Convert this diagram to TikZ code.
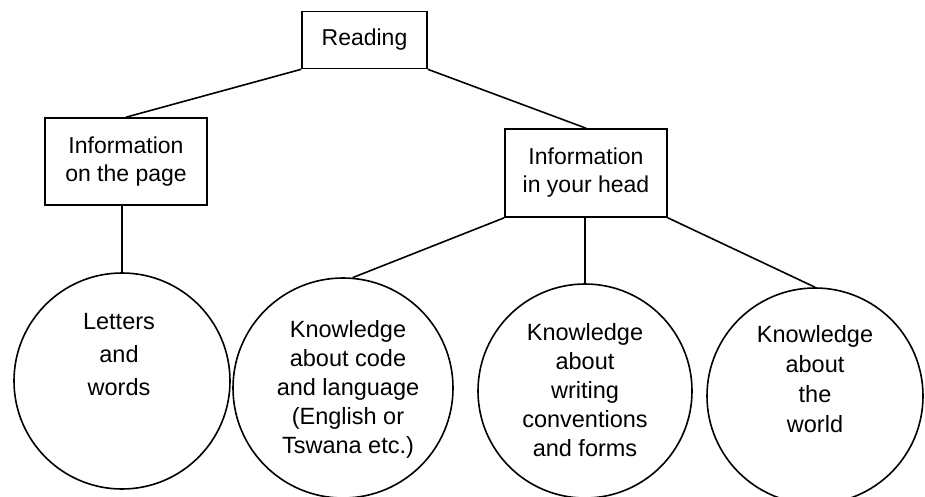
\documentclass[tikz,border=0pt]{standalone}
\usepackage{fontspec}
\setmainfont{Liberation Sans}
\begin{document}
\begin{tikzpicture}[x=1pt,y=-1pt,
  box/.style={draw, line width=1.6pt, inner sep=0pt, align=center,
    font=\fontsize{23}{28}\selectfont},
  bubble/.style={draw, circle, line width=1.6pt, inner sep=0pt},
  bubbletext/.style={align=center, inner sep=0pt},
  link/.style={line width=1.6pt}]
\useasboundingbox (0,0) rectangle (925,497);
% boxes
\node[box, minimum width=125pt, minimum height=57pt] (read) at (364.5,40) {Reading};
\node[box, minimum width=162pt, minimum height=87pt] (page) at (126,161.5) {Information\\on the page};
\node[box, minimum width=162pt, minimum height=88pt] (head) at (586,173) {Information\\in your head};
% circles
\node[bubble, minimum size=216pt] (c1) at (122,381) {};
\node[bubble, minimum size=220pt] (c2) at (343,388) {};
\node[bubble, minimum size=214pt] (c3) at (585,391) {};
\node[bubble, minimum size=216pt] (c4) at (815,396) {};
% circle texts
\node[bubbletext, font=\fontsize{23.5}{33}\selectfont] (t1) at (119,355) {Letters\\and\\words};
\node[bubbletext, font=\fontsize{23.5}{29}\selectfont] (t2) at (348,389) {Knowledge\\about code\\and language\\(English or\\Tswana etc.)};
\node[bubbletext, font=\fontsize{23.5}{29}\selectfont] (t3) at (585,390) {Knowledge\\about\\writing\\conventions\\and forms};
\node[bubbletext, font=\fontsize{23.5}{30}\selectfont] (t4) at (815,379) {Knowledge\\about\\the\\world};
% connectors
\draw[link] (read.south west) -- (page.north);
\draw[link] (read.south east) -- (head.north);
\draw[link] (c1.north |- page.south) -- (c1.north);
\draw[link] (head.south west) -- (c2.85);
\draw[link] (c3.north |- head.south) -- (c3.north);
\draw[link] (head.south east) -- (c4.north);
\end{tikzpicture}
\end{document}
